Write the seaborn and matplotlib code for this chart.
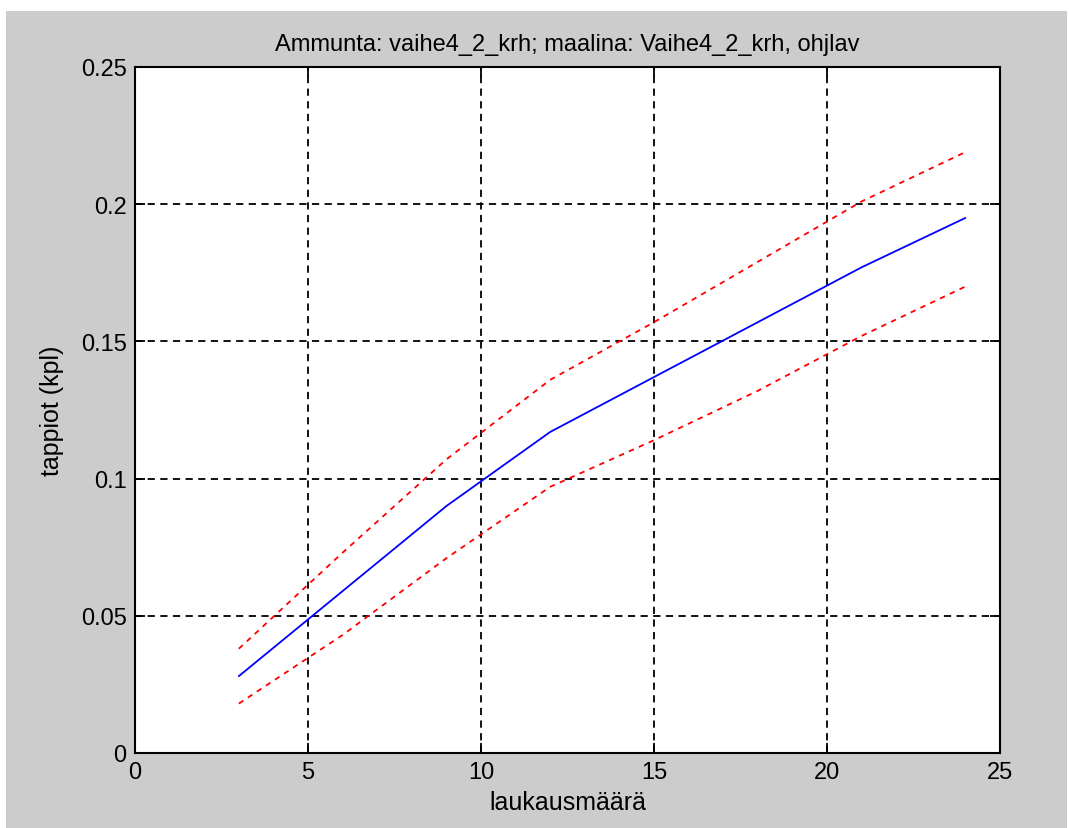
import matplotlib
matplotlib.use("Agg")
import matplotlib.pyplot as plt
from matplotlib.patches import Rectangle
from matplotlib.ticker import FuncFormatter
import seaborn as sns
import pandas as pd

shots = [3, 6, 9, 12, 15, 18, 21, 24]
mean_loss = [0.028, 0.059, 0.090, 0.117, 0.137, 0.157, 0.177, 0.195]
upper_loss = [0.038, 0.073, 0.107, 0.136, 0.157, 0.179, 0.201, 0.219]
lower_loss = [0.018, 0.043, 0.071, 0.097, 0.114, 0.132, 0.152, 0.170]

title = "Ammunta: vaihe4_2_krh; maalina: Vaihe4_2_krh, ohjlav"
xlabel = "laukausmäärä"
ylabel = "tappiot (kpl)"

sns.set_theme(style="white")
plt.rcParams['font.family'] = ['Liberation Sans', 'DejaVu Sans']

df = pd.DataFrame({"x": shots, "mean": mean_loss, "upper": upper_loss, "lower": lower_loss})

fig = plt.figure(figsize=(10.69, 8.29), dpi=100, facecolor="white")
fig.patches.append(Rectangle((6 / 1069, 0), (1067 - 6) / 1069, (829 - 12) / 829,
                             transform=fig.transFigure, facecolor="#cccccc",
                             edgecolor="none", zorder=-10))
ax = fig.add_axes([135 / 1069, 1 - 754 / 829, (1000 - 135) / 1069, (754 - 68) / 829])
ax.set_facecolor("white")

sns.lineplot(data=df, x="x", y="mean", ax=ax, color="blue", lw=1.3, zorder=3)
sns.lineplot(data=df, x="x", y="upper", ax=ax, color="red", lw=1.3, zorder=3)
sns.lineplot(data=df, x="x", y="lower", ax=ax, color="red", lw=1.3, zorder=3)
for ln in ax.lines[1:]:
    ln.set_dashes([3, 3])

ax.set_xlim(0, 25)
ax.set_ylim(0, 0.25)
ax.set_xticks([0, 5, 10, 15, 20, 25])
ax.set_yticks([0, 0.05, 0.1, 0.15, 0.2, 0.25])
ax.yaxis.set_major_formatter(FuncFormatter(lambda v, p: f"{v:g}"))
ax.grid(True, color="black", linestyle=(0, (4, 3)), lw=1.3)
ax.set_axisbelow(True)
for s in ax.spines.values():
    s.set_color("black")
    s.set_linewidth(1.5)
    s.set_visible(True)
ax.tick_params(direction="in", length=7, width=1.3, colors="black", labelsize=17,
               top=True, right=True, bottom=True, left=True, pad=6)
ax.set_title(title, fontsize=17, color="black", pad=12)
ax.set_xlabel(xlabel, fontsize=18, color="black", labelpad=5)
ax.set_ylabel(ylabel, fontsize=18, color="black", labelpad=12)

fig.savefig("out.png", dpi=100, facecolor=fig.get_facecolor())
